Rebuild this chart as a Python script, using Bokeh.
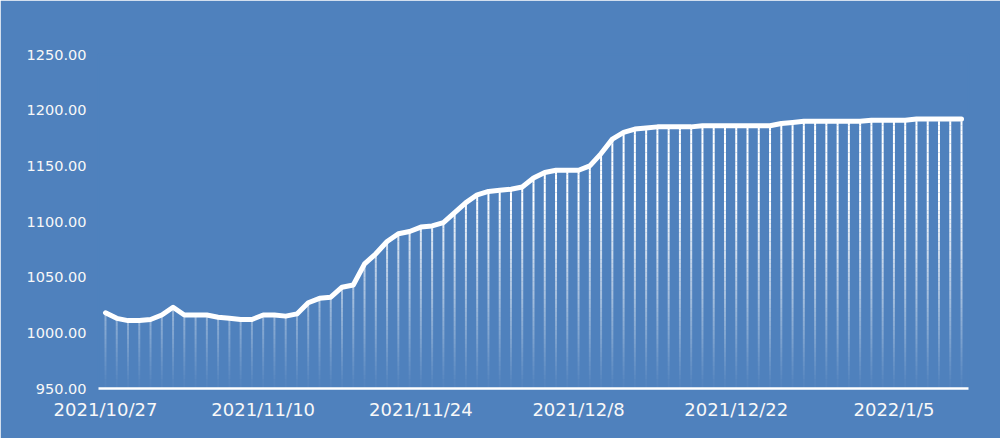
import numpy as np
from bokeh.plotting import figure
from bokeh.models import ColumnDataSource, FixedTicker, Range1d, NumeralTickFormatter
from bokeh.embed import file_html
from bokeh.resources import INLINE

# ---- data -------------------------------------------------------------
dates = [
    "2021/10/27", "2021/10/28", "2021/10/29", "2021/10/30", "2021/10/31",
    "2021/11/1", "2021/11/2", "2021/11/3", "2021/11/4", "2021/11/5",
    "2021/11/6", "2021/11/7", "2021/11/8", "2021/11/9", "2021/11/10",
    "2021/11/11", "2021/11/12", "2021/11/13", "2021/11/14", "2021/11/15",
    "2021/11/16", "2021/11/17", "2021/11/18", "2021/11/19", "2021/11/20",
    "2021/11/21", "2021/11/22", "2021/11/23", "2021/11/24", "2021/11/25",
    "2021/11/26", "2021/11/27", "2021/11/28", "2021/11/29", "2021/11/30",
    "2021/12/1", "2021/12/2", "2021/12/3", "2021/12/4", "2021/12/5",
    "2021/12/6", "2021/12/7", "2021/12/8", "2021/12/9", "2021/12/10",
    "2021/12/11", "2021/12/12", "2021/12/13", "2021/12/14", "2021/12/15",
    "2021/12/16", "2021/12/17", "2021/12/18", "2021/12/19", "2021/12/20",
    "2021/12/21", "2021/12/22", "2021/12/23", "2021/12/24", "2021/12/25",
    "2021/12/26", "2021/12/27", "2021/12/28", "2021/12/29", "2021/12/30",
    "2021/12/31", "2022/1/1", "2022/1/2", "2022/1/3", "2022/1/4",
    "2022/1/5", "2022/1/6", "2022/1/7", "2022/1/8", "2022/1/9",
    "2022/1/10", "2022/1/11",
]
values = [
    1018, 1013, 1011, 1011, 1012, 1016, 1023, 1016, 1016, 1016,
    1014, 1013, 1012, 1012, 1016, 1016, 1015, 1017, 1027, 1031,
    1032, 1041, 1043, 1062, 1071, 1082, 1089, 1091, 1095, 1096,
    1099, 1108, 1117, 1124, 1127, 1128, 1129, 1131, 1139, 1144,
    1146, 1146, 1146, 1150, 1161, 1174, 1180, 1183, 1184, 1185,
    1185, 1185, 1185, 1186, 1186, 1186, 1186, 1186, 1186, 1186,
    1188, 1189, 1190, 1190, 1190, 1190, 1190, 1190, 1191, 1191,
    1191, 1191, 1192, 1192, 1192, 1192, 1192,
]
x_tick_labels = ["2021/10/27", "2021/11/10", "2021/11/24",
                 "2021/12/8", "2021/12/22", "2022/1/5"]
y_ticks = [950, 1000, 1050, 1100, 1150, 1200, 1250]

BG = "#4F81BD"
y_min, y_max = 950, 1250

idx = list(range(len(values)))
x_tick_pos = [dates.index(d) for d in x_tick_labels]

# ---- drop lines with vertical fading (split into bands) -------------
band_step = 4
edges = np.arange(y_min, y_max + band_step, band_step)
sx, sy0, sy1, sa = [], [], [], []
for i, v in zip(idx, values):
    for lo, hi in zip(edges[:-1], edges[1:]):
        if v <= lo:
            break
        top = min(hi, v)
        mid = (lo + top) / 2.0
        a = float(np.clip((mid - y_min) / 170.0, 0.03, 1.0))
        sx.append(i)
        sy0.append(lo)
        sy1.append(top)
        sa.append(a)
drop_src = ColumnDataSource(dict(x=sx, y0=sy0, y1=sy1, a=sa))
line_src = ColumnDataSource(dict(x=idx, y=values))

# ---- figure -----------------------------------------------------------
p = figure(width=1000, height=438, output_backend="svg", toolbar_location=None,
           x_range=Range1d(-0.62, len(values) - 1 + 0.62),
           y_range=Range1d(y_min, y_max),
           min_border_left=98, min_border_right=32,
           min_border_top=54, min_border_bottom=50)
p.background_fill_color = BG
p.border_fill_color = BG
p.outline_line_color = BG
p.outline_line_width = 2
p.grid.visible = False

p.segment(x0="x", y0="y0", x1="x", y1="y1", source=drop_src,
          line_color="white", line_alpha="a", line_width=2, line_cap="butt")
p.line("x", "y", source=line_src, line_color="white", line_width=5,
       line_join="round", line_cap="round")

# y axis
p.yaxis.ticker = FixedTicker(ticks=y_ticks)
p.yaxis.formatter = NumeralTickFormatter(format="0.00")
p.yaxis.axis_line_color = None
p.yaxis.major_tick_line_color = None
p.yaxis.minor_tick_line_color = None
p.yaxis.major_tick_out = 0
p.yaxis.major_tick_in = 0
p.yaxis.major_label_standoff = 12
p.yaxis.major_label_text_color = "#F8F8F8"
p.yaxis.major_label_text_font = "DejaVu Sans"
p.yaxis.major_label_text_font_size = "14.5px"

# x axis
p.xaxis.ticker = FixedTicker(ticks=x_tick_pos)
p.xaxis.major_label_overrides = {t: lab for t, lab in zip(x_tick_pos, x_tick_labels)}
p.xaxis.axis_line_color = "white"
p.xaxis.axis_line_width = 2.5
p.xaxis.major_tick_line_color = None
p.xaxis.minor_tick_line_color = None
p.xaxis.major_tick_out = 0
p.xaxis.major_tick_in = 0
p.xaxis.major_label_standoff = 10
p.xaxis.major_label_text_color = "#F8F8F8"
p.xaxis.major_label_text_font = "DejaVu Sans"
p.xaxis.major_label_text_font_size = "18px"

html = file_html(p, INLINE)
html = html.replace("<body>", '<body style="margin:0;background-color:%s;">' % BG, 1)
open("out.html", "w").write(html)
